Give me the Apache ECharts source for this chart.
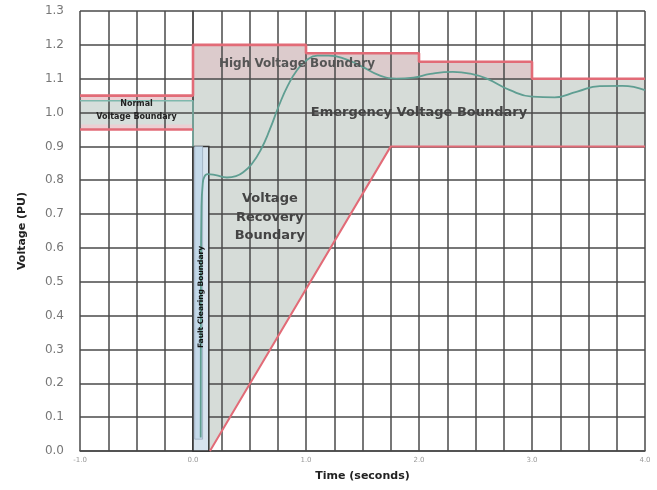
<!DOCTYPE html>
<html>
<head>
<meta charset="utf-8">
<script src="https://cdn.jsdelivr.net/npm/echarts@6/dist/echarts.min.js"></script>
<style>
html,body{margin:0;padding:0;background:#fff;}
#chart{width:657px;height:490px;}
</style>
</head>
<body>
<div id="chart"></div>
<script>
// ---- data (time in seconds, voltage in PU) ----
const yTicks = [0.0,0.1,0.2,0.3,0.4,0.5,0.6,0.7,0.8,0.9,1.0,1.1,1.2,1.3];
const xTickLabels = ['-1.0','0.0','1.0','2.0','3.0','4.0'];

const voltageCurve = [
  [0.068,0.04],[0.07,0.5],[0.075,0.72],[0.085,0.785],[0.1,0.81],[0.13,0.818],
  [0.2,0.815],[0.3,0.808],[0.38,0.812],[0.45,0.825],[0.52,0.848],[0.6,0.89],
  [0.68,0.95],[0.76,1.02],[0.84,1.08],[0.92,1.125],[1.0,1.153],[1.1,1.168],
  [1.2,1.168],[1.35,1.158],[1.5,1.135],[1.65,1.11],[1.8,1.1],[1.95,1.103],
  [2.1,1.114],[2.3,1.12],[2.45,1.115],[2.6,1.1],[2.8,1.067],[3.0,1.047],
  [3.2,1.045],[3.4,1.062],[3.6,1.078],[3.8,1.079],[4.0,1.066]
];

const normalRegion = [[-1,0.95],[0,0.95],[0,1.05],[-1,1.05]];
const normalInner = [[-1,0.965],[0,0.965],[0,1.035],[-1,1.035]];
const recoveryRegion = [
  [0.14,0],[0.15,0],[1.75,0.9],[4,0.9],[4,1.1],[3,1.1],[3,1.15],[2,1.15],
  [2,1.175],[1,1.175],[1,1.2],[0,1.2],[0,0.9],[0.14,0.9]
];
const highRegion = [
  [0,1.1],[3,1.1],[3,1.15],[2,1.15],[2,1.175],[1,1.175],[1,1.2],[0,1.2]
];
const faultBox = [[0,0],[0.14,0],[0.14,0.9],[0,0.9]];
const faultInner = [[0.015,0.035],[0.085,0.035],[0.085,0.9],[0.015,0.9]];

const upperLimit = [[-1,1.05],[0,1.05],[0,1.2],[1,1.2],[1,1.175],[2,1.175],[2,1.15],[3,1.15],[3,1.1],[4,1.1]];
const normalLowerLimit = [[-1,0.95],[0,0.95]];
const lowerLimit = [[0.15,0],[1.75,0.9],[4,0.9]];
const normalTeal = [[-1,1.035],[0,1.035],[0,0.9]];

const labelTexts = ['Normal','Voltage Boundary','High Voltage Boundary','Emergency Voltage Boundary',
  'Voltage','Recovery','Boundary','Fault Clearing Boundary'];
const labelAnchors = [[-0.5,1.024],[-0.5,0.987],[0.92,1.143],[2.0,1.0],
  [0.68,0.745],[0.68,0.69],[0.68,0.635],[0.075,0.455]];

// ---- helpers ----
function polygonSeries(points, fill, stroke, lw, z) {
  return {
    type:'custom', z:z, silent:true,
    data:[0],
    renderItem:function(params, api){
      return {type:'polygon', shape:{points:points.map(p=>api.coord(p))},
        style:{fill:fill, stroke:stroke||null, lineWidth:lw||0}};
    }
  };
}
function lineSeries(points, color, width, z) {
  return {type:'line', data:points, z:z, symbol:'none', silent:true,
    lineStyle:{color:color, width:width}, animation:false};
}
const labelStyles = [
  {font:'bold 8px "DejaVu Sans"', fill:'#222'},
  {font:'bold 8px "DejaVu Sans"', fill:'#222'},
  {font:'bold 12px "DejaVu Sans"', fill:'#555'},
  {font:'bold 13px "DejaVu Sans"', fill:'#444'},
  {font:'bold 13px "DejaVu Sans"', fill:'#444'},
  {font:'bold 13px "DejaVu Sans"', fill:'#444'},
  {font:'bold 13px "DejaVu Sans"', fill:'#444'},
  {font:'bold 7.5px "DejaVu Sans"', fill:'#111'}
];

const chart = echarts.init(document.getElementById('chart'), null, {renderer:'canvas'});
const option = {
  animation:false,
  backgroundColor:'#ffffff',
  grid:{left:80, right:12, top:11, bottom:39, show:false},
  xAxis:{
    type:'value', min:-1, max:4, interval:0.25, z:2,
    name:'Time (seconds)', nameLocation:'middle', nameGap:20,
    nameTextStyle:{fontFamily:'DejaVu Sans', fontWeight:'bold', fontSize:11, color:'#222'},
    axisLine:{show:true, lineStyle:{color:'#4a4a4a', width:1.5}},
    axisTick:{show:false},
    splitLine:{show:true, lineStyle:{color:'#4a4a4a', width:1.5}},
    axisLabel:{fontFamily:'DejaVu Sans', fontSize:7, color:'#999', margin:6,
      formatter:function(v){
        const r = Math.round(v);
        if (Math.abs(v - r) > 1e-6) return '';
        return xTickLabels[r + 1] || '';
      }}
  },
  yAxis:{
    type:'value', min:0, max:1.3, interval:0.1, z:2,
    name:'Voltage (PU)', nameLocation:'middle', nameGap:52, nameRotate:90,
    nameTextStyle:{fontFamily:'DejaVu Sans', fontWeight:'bold', fontSize:11, color:'#222'},
    axisLine:{show:true, lineStyle:{color:'#4a4a4a', width:1.5}},
    axisTick:{show:false},
    splitLine:{show:true, lineStyle:{color:'#4a4a4a', width:1.5}},
    axisLabel:{fontFamily:'DejaVu Sans', fontSize:12, color:'#777', margin:16,
      formatter:function(v){
        const i = Math.round(v*10);
        return yTicks[i] !== undefined ? yTicks[i].toFixed(1) : '';
      }}
  },
  series:[
    polygonSeries(normalRegion, '#eccfd3', null, 0, 1),
    polygonSeries(normalInner, '#d6dedb', null, 0, 1),
    polygonSeries(recoveryRegion, '#d6dcd8', null, 0, 1),
    polygonSeries(highRegion, '#dccbcc', null, 0, 1),
    polygonSeries(faultBox, '#d6e3ee', '#333', 1.5, 3),
    polygonSeries(faultInner, '#c4d9ea', '#9ab', 0.8, 3),
    lineSeries(normalTeal, '#7fb8ad', 1.5, 3),
    lineSeries(upperLimit, '#e26b77', 2.6, 4),
    lineSeries(normalLowerLimit, '#e26b77', 2.6, 4),
    lineSeries(lowerLimit, '#e26b77', 2, 4),
    {type:'line', data:voltageCurve, z:5, symbol:'none', silent:true, smooth:0.5,
      lineStyle:{color:'#5f9e92', width:1.8}},
    {
      type:'custom', z:6, silent:true,
      data:labelAnchors,
      renderItem:function(params, api){
        const i = params.dataIndex;
        const p = api.coord([api.value(0), api.value(1)]);
        const st = labelStyles[i];
        return {type:'text', x:p[0], y:p[1], rotation: i===7 ? Math.PI/2 : 0,
          style:{text:labelTexts[i], font:st.font, fill:st.fill, align:'center', verticalAlign:'middle'}};
      }
    }
  ]
};
chart.setOption(option);
</script>
</body>
</html>
